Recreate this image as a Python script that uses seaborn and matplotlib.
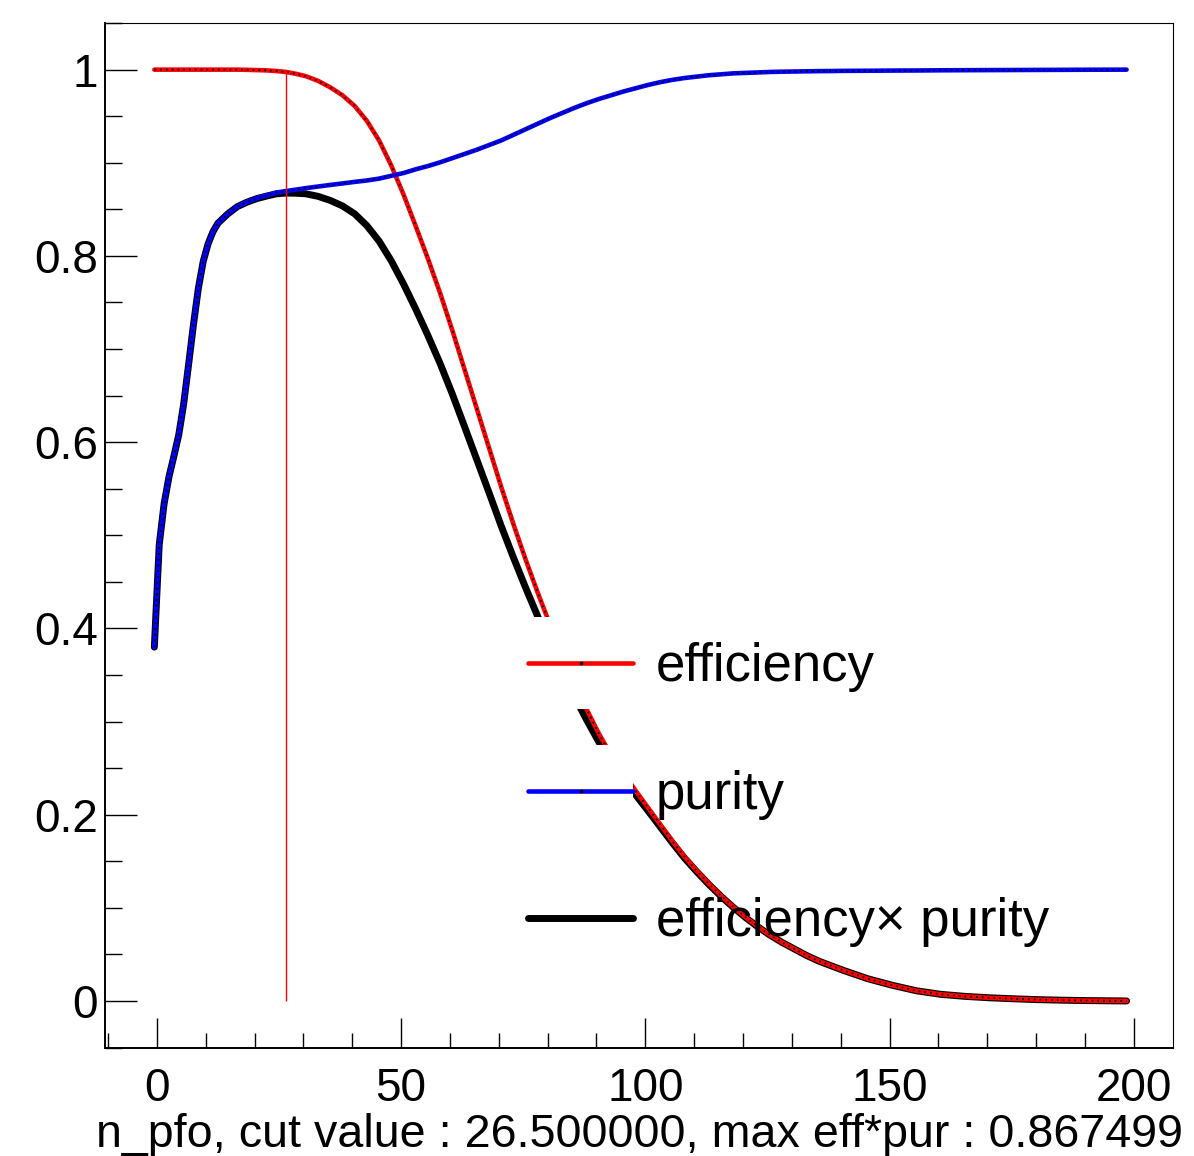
import numpy as np
import pandas as pd
import matplotlib
matplotlib.use("Agg")
import matplotlib.pyplot as plt
import seaborn as sns
from matplotlib.lines import Line2D
from matplotlib.patches import Patch, Rectangle
from matplotlib.legend_handler import HandlerTuple, HandlerPatch
from matplotlib.ticker import MultipleLocator, FixedLocator, FuncFormatter

# ---------------- data ----------------
cut_values = [-0.5, 0.5, 1.5, 2.5, 3.5, 4.5, 5.5, 6.5, 7.5, 8.5, 9.5, 10.5,
              11.5, 12.5, 14.5, 16.5, 18.5, 20.5, 22.5, 24.5, 26.5, 28.5,
              30.5, 33, 35.5, 38, 40.5, 43, 45.5, 48, 50.5, 53, 55.5, 58,
              60.5, 63, 65.5, 68, 70.5, 73, 75.5, 78, 80.5, 83, 85.5, 88,
              90.5, 93, 95.5, 98, 100.5, 103, 105.5, 108, 110.5, 113, 115.5,
              118, 120.5, 123, 125.5, 128, 130.5, 133, 135.5, 138, 140.5,
              145.5, 150.5, 155.5, 160.5, 165.5, 170.5, 175.5, 180.5, 185.5,
              190.5, 198.5]

efficiency = [1.0, 1.0, 1.0, 1.0, 1.0, 1.0, 1.0, 1.0, 1.0, 1.0, 1.0, 1.0,
              1.0, 1.0, 1.0, 1.0, 0.9998, 0.9995, 0.9992, 0.9985, 0.9975,
              0.9955, 0.993, 0.988, 0.981, 0.9725, 0.961, 0.945, 0.924, 0.897,
              0.866, 0.832, 0.797, 0.760, 0.720, 0.678, 0.636, 0.594, 0.552,
              0.512, 0.474, 0.438, 0.404, 0.371, 0.341, 0.313, 0.287, 0.264,
              0.245, 0.226, 0.208, 0.190, 0.172, 0.155, 0.140, 0.126, 0.113,
              0.101, 0.090, 0.080, 0.071, 0.063, 0.056, 0.049, 0.043, 0.038,
              0.033, 0.024, 0.017, 0.011, 0.0072, 0.0050, 0.0035, 0.0024,
              0.0015, 0.0009, 0.0005, 0.0001]

purity = [0.380, 0.490, 0.534, 0.563, 0.585, 0.608, 0.641, 0.683, 0.726,
          0.765, 0.794, 0.813, 0.826, 0.835, 0.845, 0.853, 0.858, 0.862,
          0.865, 0.868, 0.8697, 0.8712, 0.8728, 0.8745, 0.8762, 0.8778,
          0.8795, 0.881, 0.883, 0.886, 0.889, 0.893, 0.8965, 0.9005, 0.905,
          0.9095, 0.914, 0.919, 0.924, 0.930, 0.936, 0.942, 0.948, 0.9535,
          0.959, 0.964, 0.9685, 0.9725, 0.9765, 0.980, 0.9835, 0.9865,
          0.989, 0.991, 0.9925, 0.994, 0.995, 0.996, 0.9965, 0.997, 0.9975,
          0.9978, 0.998, 0.9982, 0.9984, 0.9985, 0.9987, 0.9988, 0.999,
          0.9991, 0.9993, 0.9994, 0.9995, 0.9996, 0.9997, 0.9998, 0.9999,
          1.0]

eff_times_pur = [0.380, 0.490, 0.534, 0.563, 0.585, 0.608, 0.641, 0.683,
                 0.726, 0.765, 0.794, 0.813, 0.826, 0.835, 0.845, 0.853,
                 0.8578, 0.8616, 0.8643, 0.8667, 0.8675, 0.8673, 0.8667,
                 0.8640, 0.8596, 0.8537, 0.8452, 0.8325, 0.8159, 0.7947,
                 0.7699, 0.7430, 0.7145, 0.6844, 0.6516, 0.6166, 0.5813,
                 0.5459, 0.5100, 0.4762, 0.4437, 0.4126, 0.3830, 0.3537,
                 0.3270, 0.3017, 0.2780, 0.2567, 0.2392, 0.2215, 0.2046,
                 0.1874, 0.1701, 0.1536, 0.1390, 0.1252, 0.1124, 0.1006,
                 0.0897, 0.0798, 0.0708, 0.0629, 0.0559, 0.0489, 0.0429,
                 0.0379, 0.0330, 0.0240, 0.0170, 0.0110, 0.0072, 0.0050,
                 0.0035, 0.0024, 0.0015, 0.0009, 0.0005, 0.0001]

best_cut = 26.5
best_cut_eff = 0.9975
series_labels = ["efficiency", "purity", "efficiency\u00d7 purity"]
x_ticks = [0, 50, 100, 150, 200]
y_ticks = [0, 0.2, 0.4, 0.6, 0.8, 1.0]
x_label = "n_pfo, cut value : 26.500000, max eff*pur : 0.867499"

df = pd.DataFrame({"cut": cut_values, "efficiency": efficiency,
                   "purity": purity, "effpur": eff_times_pur})

# ---------------- style ----------------
sns.set_theme(style="white")
plt.rcParams["font.family"] = ["Liberation Sans", "DejaVu Sans"]
plt.rcParams["text.color"] = "black"

W, H = 1194, 1156
fig = plt.figure(figsize=(W / 100, H / 100), dpi=100)
fig.patch.set_facecolor("white")
ax = fig.add_axes([105 / W, (H - 1048) / H, 1068 / W, 1025.3 / H])
ax.set_facecolor("white")

dots = (0, (1.0, 2.2))

# eff x pur (black, thick)
sns.lineplot(data=df, x="cut", y="effpur", ax=ax, color="black", lw=5.0,
             estimator=None, sort=False, zorder=2)
# efficiency (red) with dotted black overlay
sns.lineplot(data=df, x="cut", y="efficiency", ax=ax, color="red", lw=3.3,
             estimator=None, sort=False, zorder=3)
sns.lineplot(data=df, x="cut", y="efficiency", ax=ax, color="black", lw=1.3,
             linestyle=dots, estimator=None, sort=False, zorder=3.1)
# purity (blue) with dotted black overlay
sns.lineplot(data=df, x="cut", y="purity", ax=ax, color="blue", lw=3.3,
             estimator=None, sort=False, zorder=4)
sns.lineplot(data=df, x="cut", y="purity", ax=ax, color="black", lw=1.3,
             linestyle=dots, estimator=None, sort=False, zorder=4.1)

# best cut marker line
ax.vlines(best_cut, 0, best_cut_eff, color="red", lw=1.0, zorder=5)

# ---------------- axes ----------------
ax.set_xlim(-10.6, 208)
ax.set_ylim(-0.0504, 1.0504)
ax.xaxis.set_major_locator(FixedLocator(x_ticks))
ax.xaxis.set_minor_locator(MultipleLocator(10))
ax.yaxis.set_major_locator(FixedLocator(y_ticks))
ax.yaxis.set_minor_locator(MultipleLocator(0.05))
ax.yaxis.set_major_formatter(FuncFormatter(lambda v, p: f"{v:g}"))
ax.xaxis.set_major_formatter(FuncFormatter(lambda v, p: f"{v:g}"))

ax.tick_params(axis="both", which="both", direction="in", top=False,
               right=False, bottom=True, left=True, color="black",
               width=1.0, labelsize=33, labelcolor="black")
ax.tick_params(axis="x", which="major", length=21.6, pad=14)
ax.tick_params(axis="x", which="minor", length=10.8)
ax.tick_params(axis="y", which="major", length=23, pad=5)
ax.tick_params(axis="y", which="minor", length=12)

for side in ["top", "right"]:
    ax.spines[side].set_color("black")
    ax.spines[side].set_linewidth(0.8)
for side in ["left", "bottom"]:
    ax.spines[side].set_color("black")
    ax.spines[side].set_linewidth(1.4)

ax.set_ylabel("")
ax.set_xlabel(x_label, fontsize=33.6, color="black")
ax.xaxis.set_label_coords(1.0094, -0.0963)
ax.xaxis.label.set_ha("right")
ax.xaxis.label.set_va("baseline")

# ---------------- legend ----------------
LEG_FS = 38
BOX_H = 1.74 * LEG_FS  # white box behind each legend line (points)


def centered_box(legend, orig_handle, xdescent, ydescent, width, height,
                 fontsize):
    yc = (height - ydescent) / 2.0
    return Rectangle((-xdescent - 2, yc - BOX_H / 2.0), width + 2, BOX_H)


white_box = Patch(facecolor="white", edgecolor="none")
h_eff = Line2D([], [], color="red", lw=3.3, marker="s", markersize=1.8,
               markerfacecolor="black", markeredgecolor="black")
h_pur = Line2D([], [], color="blue", lw=3.3, marker="s", markersize=1.8,
               markerfacecolor="black", markeredgecolor="black")
h_ep = Line2D([], [], color="black", lw=5.0)
leg = ax.legend([(white_box, h_eff), (white_box, h_pur), (white_box, h_ep)],
                series_labels,
                handler_map={tuple: HandlerTuple(ndivide=1),
                             white_box: HandlerPatch(patch_func=centered_box)},
                loc="upper left", bbox_to_anchor=(0.396, 0.396),
                frameon=False, fontsize=LEG_FS, handlelength=2.0,
                handleheight=0.64, handletextpad=0.42, labelspacing=1.47,
                borderpad=0, borderaxespad=0, numpoints=1,
                labelcolor="black")
leg.set_zorder(10)

fig.savefig("out.png", dpi=100, facecolor="white")
